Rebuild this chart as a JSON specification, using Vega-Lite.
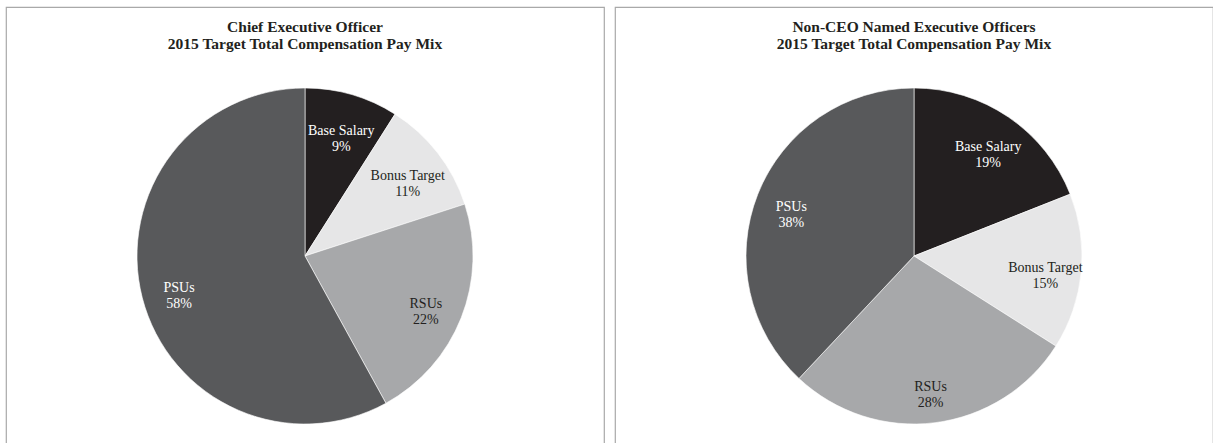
{
  "$schema": "https://vega.github.io/schema/vega-lite/v6.json",
  "padding": {"left": 5, "top": 6, "right": 0, "bottom": 0},
  "background": "white",
  "datasets": {
    "ceo": [
      {"category": "Base Salary", "order": 1, "pct": 9, "label": "Base Salary\n9%"},
      {"category": "Bonus Target", "order": 2, "pct": 11, "label": "Bonus Target\n11%"},
      {"category": "RSUs", "order": 3, "pct": 22, "label": "RSUs\n22%"},
      {"category": "PSUs", "order": 4, "pct": 58, "label": "PSUs\n58%"}
    ],
    "neo": [
      {"category": "Base Salary", "order": 1, "pct": 19, "label": "Base Salary\n19%"},
      {"category": "Bonus Target", "order": 2, "pct": 15, "label": "Bonus Target\n15%"},
      {"category": "RSUs", "order": 3, "pct": 28, "label": "RSUs\n28%"},
      {"category": "PSUs", "order": 4, "pct": 38, "label": "PSUs\n38%"}
    ]
  },
  "hconcat": [
    {
      "width": 598,
      "height": 498,
      "view": {"stroke": "#a9a9a9", "strokeWidth": 1.2},
      "data": {"name": "ceo"},
      "title": {"text": ["Chief Executive Officer", "2015 Target Total Compensation Pay Mix"], "offset": -45},
      "encoding": {
        "theta": {"field": "pct", "type": "quantitative", "stack": true},
        "order": {"field": "order", "type": "quantitative", "sort": "ascending"}
      },
      "layer": [
        {
          "mark": {"type": "arc", "outerRadius": 168, "stroke": "#ffffff", "strokeWidth": 0.6},
          "encoding": {
            "color": {"field": "category", "type": "nominal", "legend": null,
              "scale": {"domain": ["Base Salary", "Bonus Target", "RSUs", "PSUs"], "range": ["#231f20", "#e6e6e7", "#a7a8aa", "#58595b"]}}
          }
        },
        {
          "mark": {"type": "text", "radius": 130, "font": "Liberation Serif", "fontSize": 14, "lineBreak": "\n", "lineHeight": 16, "baseline": "middle", "align": "center"},
          "encoding": {
            "text": {"field": "label", "type": "nominal"},
            "color": {"field": "category", "type": "nominal", "legend": null,
              "scale": {"domain": ["Base Salary", "Bonus Target", "RSUs", "PSUs"], "range": ["#ffffff", "#231f20", "#231f20", "#ffffff"]}}
          }
        }
      ],
      "resolve": {"scale": {"color": "independent"}}
    },
    {
      "width": 598,
      "height": 498,
      "view": {"stroke": "#a9a9a9", "strokeWidth": 1.2},
      "data": {"name": "neo"},
      "title": {"text": ["Non-CEO Named Executive Officers", "2015 Target Total Compensation Pay Mix"], "offset": -45},
      "encoding": {
        "theta": {"field": "pct", "type": "quantitative", "stack": true},
        "order": {"field": "order", "type": "quantitative", "sort": "ascending"}
      },
      "layer": [
        {
          "mark": {"type": "arc", "outerRadius": 168, "stroke": "#ffffff", "strokeWidth": 0.6},
          "encoding": {
            "color": {"field": "category", "type": "nominal", "legend": null,
              "scale": {"domain": ["Base Salary", "Bonus Target", "RSUs", "PSUs"], "range": ["#231f20", "#e6e6e7", "#a7a8aa", "#58595b"]}}
          }
        },
        {
          "mark": {"type": "text", "radius": 132, "font": "Liberation Serif", "fontSize": 14, "lineBreak": "\n", "lineHeight": 16, "baseline": "middle", "align": "center"},
          "encoding": {
            "text": {"field": "label", "type": "nominal"},
            "color": {"field": "category", "type": "nominal", "legend": null,
              "scale": {"domain": ["Base Salary", "Bonus Target", "RSUs", "PSUs"], "range": ["#ffffff", "#231f20", "#231f20", "#ffffff"]}}
          }
        }
      ],
      "resolve": {"scale": {"color": "independent"}}
    }
  ],
  "config": {
    "view": {"stroke": "#a9a9a9", "strokeWidth": 1.2},
    "concat": {"spacing": 9},
    "title": {"font": "Liberation Serif", "fontSize": 15.5, "fontWeight": "bold", "color": "#231f20", "lineHeight": 17, "anchor": "middle"}
  }
}
